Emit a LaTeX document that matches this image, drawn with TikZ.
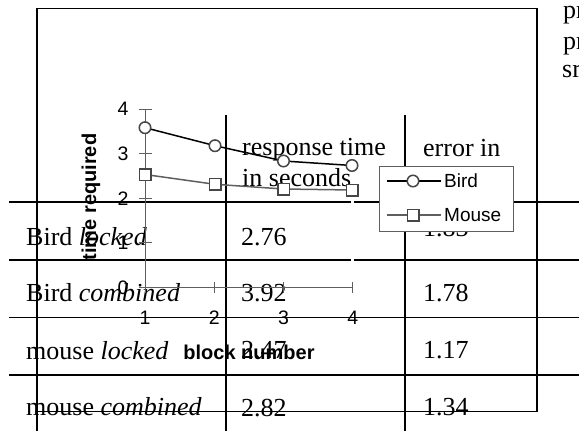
\documentclass[tikz,border=0pt]{standalone}
\usepackage{fontspec}
\setmainfont{Liberation Serif}
\setsansfont{Liberation Sans}
\definecolor{axgray}{RGB}{95,95,95}
\definecolor{mkgray}{RGB}{70,70,70}
\begin{document}
\begin{tikzpicture}[x=1pt,y=-1pt,
  tbl/.style={line width=1.4pt, draw=black},
  cell/.style={anchor=base west, inner sep=0pt, font=\fontsize{26}{30}\selectfont},
  ax/.style={line width=1pt, draw=axgray},
  ticklab/.style={anchor=center, inner sep=0pt, font=\sffamily\fontsize{19.5}{21}\selectfont},
  axlab/.style={anchor=center, inner sep=0pt, font=\sffamily\bfseries\fontsize{20}{22}\selectfont},
  leglab/.style={anchor=west, inner sep=0pt, font=\sffamily\fontsize{19}{21}\selectfont},
  birdline/.style={line width=1.5pt, draw=black},
  mouseline/.style={line width=1.5pt, draw=axgray},
  birdmk/.style={circle, draw=mkgray, fill=white, line width=1.5pt, minimum size=11.5pt, inner sep=0pt},
  mousemk/.style={rectangle, draw=mkgray, fill=white, line width=1.5pt, minimum size=11.5pt, inner sep=0pt}
]
\useasboundingbox (0,0) rectangle (579,431);
\clip (0,0) rectangle (579,431);
% ---------- table / frame ----------
\draw[tbl] (37,431) -- (37,8.3) -- (537,8.3) -- (537,411.5);
\draw[tbl] (35,411.5) -- (537,411.5);
\draw[tbl] (9,202) -- (351,202);
\draw[tbl] (354,202) -- (579,202);
\draw[tbl] (9,260) -- (351,260);
\draw[tbl] (354,260) -- (579,260);
\draw[tbl] (9,317.7) -- (579,317.7);
\draw[tbl] (9,375) -- (579,375);
\draw[tbl] (226,115) -- (226,431);
\draw[tbl] (405,115) -- (405,431);
% texts
\node[cell] (h1) at (242,155) {response time};
\node[cell] (h2) at (242,186.5) {in seconds};
\node[cell] (h3) at (423,156) {error in};
\node[cell] (r1a) at (26,245) {Bird \textit{locked}};
\node[cell] (r1b) at (241,245) {2.76};
\node[cell] (r1c) at (423,236) {1.83};
\node[cell] (r2a) at (26,301.5) {Bird \textit{combined}};
\node[cell] (r2b) at (241,301.5) {3.92};
\node[cell] (r2c) at (423,301.5) {1.78};
\node[cell] (r3a) at (26,359) {mouse \textit{locked}};
\node[cell] (r3b) at (241,358.5) {2.47};
\node[cell] (r3c) at (423,358.5) {1.17};
\node[cell] (r4a) at (26,415) {mouse \textit{combined}};
\node[cell] (r4b) at (241,416) {2.82};
\node[cell] (r4c) at (423,415) {1.34};
\node[cell] (s1) at (563,19) {pr};
\node[cell] (s2) at (563,49) {pr};
\node[cell] (s3) at (562,77) {sr};
% ---------- chart ----------
\coordinate (o) at (145,287.5);
\draw[ax] (145,109) -- (o) -- (352.7,287.5);
\foreach \v/\yy in {0/287.5,1/242.9,2/198.2,3/153.6,4/109}{
  \draw[ax] (139,\yy) -- (152,\yy);
  \node[ticklab] (yl\v) at (123,\yy) {\v};
}
\foreach \v/\xx in {1/145,2/214.2,3/283.5,4/352.7}{
  \draw[ax] (\xx,282) -- (\xx,293);
  \node[ticklab] (xl\v) at (\xx,318) {\v};
}
\node[axlab, rotate=90] (ylab) at (91,197) {time required};
\node[axlab] (xlab) at (249,352) {block number};
% data
\coordinate (b1) at (145,127.7);
\coordinate (b2) at (215,145.7);
\coordinate (b3) at (283.5,161);
\coordinate (b4) at (352,165.5);
\coordinate (m1) at (145,174.5);
\coordinate (m2) at (215,184.3);
\coordinate (m3) at (283.5,189);
\coordinate (m4) at (352,190);
\draw[mouseline] (m1) -- (m2) -- (m3) -- (m4);
\draw[birdline] (b1) -- (b2) -- (b3) -- (b4);
\foreach \i in {1,2,3,4}{
  \node[mousemk] (mk\i) at (m\i) {};
  \node[birdmk] (bk\i) at (b\i) {};
}
% legend
\node[draw=axgray, fill=white, line width=0.9pt, minimum width=133.5pt, minimum height=65.5pt, anchor=north west, inner sep=0pt] (legend) at (379,165.5) {};
\coordinate (lb1) at (387,181);
\coordinate (lb2) at (441,181);
\coordinate (lm1) at (387,215);
\coordinate (lm2) at (441,215);
\draw[birdline] (lb1) -- (lb2);
\draw[mouseline] (lm1) -- (lm2);
\node[birdmk] (lbk) at (413,181) {};
\node[mousemk] (lmk) at (413,215) {};
\node[leglab] (lbt) at (444,181) {Bird};
\node[leglab] (lmt) at (444,215) {Mouse};
\end{tikzpicture}
\end{document}
